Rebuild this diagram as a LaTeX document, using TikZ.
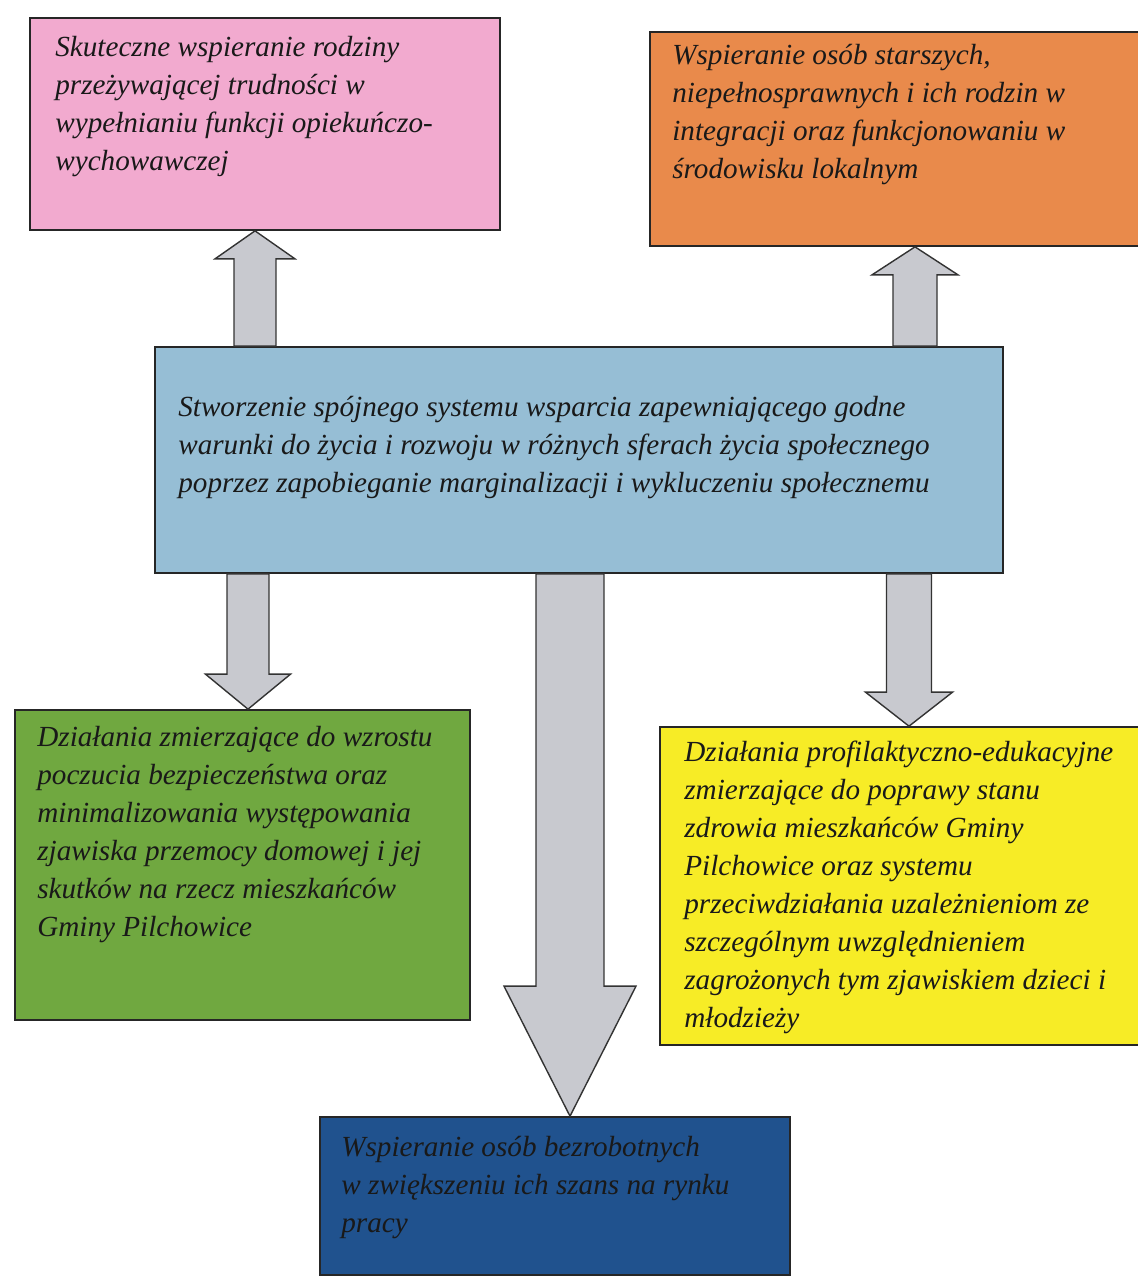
\documentclass[tikz,border=0pt]{standalone}
\usepackage{fontspec}
\setmainfont{Liberation Serif}
\usetikzlibrary{calc}

\definecolor{pinkbox}{RGB}{242,170,207}
\definecolor{orangebox}{RGB}{233,138,75}
\definecolor{centerbox}{RGB}{150,190,213}
\definecolor{greenbox}{RGB}{112,168,64}
\definecolor{yellowbox}{RGB}{247,236,38}
\definecolor{navybox}{RGB}{32,82,142}
\definecolor{arrowgray}{RGB}{200,201,207}

\tikzset{
  box/.style={draw=black!85, line width=1pt, inner sep=0pt},
  txt/.style={anchor=north west, align=left, inner sep=0pt, text=black!90,
    font=\itshape\fontsize{16.6}{21.6}\selectfont},
  blockarrow/.style={draw=black!80, fill=arrowgray, line width=0.8pt, line join=miter}
}

% block arrow from #1 to #2: shaft half width, head half width, head length
\newcommand{\bigarrow}[5]{%
  \coordinate (hb) at ($(#2)!#5!(#1)$);
  \draw [blockarrow] ($(#1)!#3!90:(#2)$) -- ($(hb)!#3!90:(#2)$) -- ($(hb)!#4!90:(#2)$)
    -- (#2) -- ($(hb)!#4!-90:(#2)$) -- ($(hb)!#3!-90:(#2)$) -- ($(#1)!#3!-90:(#2)$) -- cycle;
}

\begin{document}
\begin{tikzpicture}[x=0.02cm, y=-0.02cm]
  \useasboundingbox (0,0) rectangle (1137,1279);

  % boxes
  \node [box, fill=pinkbox, minimum width=9.4cm, minimum height=4.24cm] (pink) at (265,124) {};
  \node [box, fill=orangebox, minimum width=9.84cm, minimum height=4.28cm] (orange) at (896,139) {};
  \node [box, fill=centerbox, minimum width=16.96cm, minimum height=4.52cm] (center) at (579,460) {};
  \node [box, fill=greenbox, minimum width=9.1cm, minimum height=6.2cm] (green) at (242.5,865) {};
  \node [box, fill=yellowbox, minimum width=9.6cm, minimum height=6.36cm] (yellow) at (900,886) {};
  \node [box, fill=navybox, minimum width=9.4cm, minimum height=3.16cm] (navy) at (555,1196) {};

  % texts
  \node [txt] (pinktext) at (55,36) {Skuteczne wspieranie rodziny\\ przeżywającej trudności w\\
    wypełnianiu funkcji opiekuńczo-\\ wychowawczej};
  \node [txt] (orangetext) at (672,44) {Wspieranie osób starszych,\\ niepełnosprawnych i ich rodzin w\\
    integracji oraz funkcjonowaniu w\\ środowisku lokalnym};
  \node [txt] (centertext) at (178,396) {Stworzenie spójnego systemu wsparcia zapewniającego godne\\
    warunki do życia i rozwoju w różnych sferach życia społecznego\\
    poprzez zapobieganie marginalizacji i wykluczeniu społecznemu};
  \node [txt] (greentext) at (37,726) {Działania zmierzające do wzrostu\\ poczucia bezpieczeństwa oraz\\
    minimalizowania występowania\\ zjawiska przemocy domowej i jej\\
    skutków na rzecz mieszkańców\\ Gminy Pilchowice};
  \node [txt] (yellowtext) at (684,741) {Działania profilaktyczno-edukacyjne\\ zmierzające do poprawy stanu\\
    zdrowia mieszkańców Gminy\\ Pilchowice oraz systemu\\ przeciwdziałania uzależnieniom ze\\
    szczególnym uwzględnieniem\\ zagrożonych tym zjawiskiem dzieci i\\ młodzieży};
  \node [txt] (navytext) at (341,1136) {Wspieranie osób bezrobotnych\\ w zwiększeniu ich szans na rynku\\ pracy};

  % arrows
  \coordinate (up1s) at (255,0 |- center.north);
  \coordinate (up1e) at (255,0 |- pink.south);
  \coordinate (up2s) at (915,0 |- center.north);
  \coordinate (up2e) at (915,0 |- orange.south);
  \coordinate (dn1s) at (248,0 |- center.south);
  \coordinate (dn1e) at (248,0 |- green.north);
  \coordinate (dn2s) at (570,0 |- center.south);
  \coordinate (dn2e) at (570,0 |- navy.north);
  \coordinate (dn3s) at (909,0 |- center.south);
  \coordinate (dn3e) at (909,0 |- yellow.north);
  \bigarrow{up1s}{up1e}{0.42cm}{0.8cm}{0.56cm}
  \bigarrow{up2s}{up2e}{0.44cm}{0.86cm}{0.56cm}
  \bigarrow{dn1s}{dn1e}{0.42cm}{0.85cm}{0.7cm}
  \bigarrow{dn2s}{dn2e}{0.68cm}{1.32cm}{2.6cm}
  \bigarrow{dn3s}{dn3e}{0.45cm}{0.87cm}{0.68cm}
\end{tikzpicture}
\end{document}
